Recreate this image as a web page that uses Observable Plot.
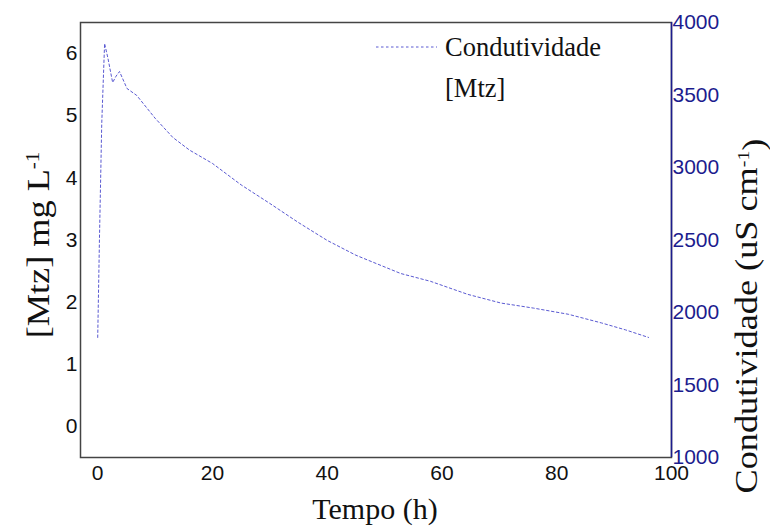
<!DOCTYPE html>
<html>
<head>
<meta charset="utf-8">
<script src="https://cdn.jsdelivr.net/npm/d3@7"></script>
<script src="https://cdn.jsdelivr.net/npm/@observablehq/plot@0.6"></script>
<style>
  html, body { margin: 0; padding: 0; background: white; }
  #chart { width: 770px; height: 526px; }
</style>
</head>
<body>
<div id="chart"></div>
<script>
// Data
const time = [0, 0.3, 0.7, 1.2, 1.8, 2.6, 3.2, 3.8, 5.1, 6.8, 10, 13.1, 16, 20, 25, 30, 35, 40, 45, 52.8, 58, 64.5, 70.3, 76, 82, 87.8, 92, 96];
const conductivity = [1828, 2500, 3300, 3855, 3750, 3586, 3630, 3662, 3545, 3497, 3340, 3207, 3120, 3028, 2880, 2752, 2620, 2497, 2395, 2269, 2215, 2125, 2065, 2030, 1988, 1928, 1880, 1828];
const xTicks = [0, 20, 40, 60, 80, 100];
const mtzTicks = [0, 1, 2, 3, 4, 5, 6];
const condTicks = [1000, 1500, 2000, 2500, 3000, 3500, 4000];

const mtzDomain = [-0.5, 6.5];
const condDomain = [1000, 4000];
const toLeft = d3.scaleLinear().domain(condDomain).range(mtzDomain);

const data = time.map((t, i) => ({t, c: conductivity[i]}));

const navy = "#1c1c8e";
const lineColor = "#5a5ad2";

const svg = Plot.plot({
  width: 770,
  height: 526,
  marginLeft: 80,
  marginRight: 99,
  marginTop: 22,
  marginBottom: 69,
  x: {domain: [-3, 100], label: null},
  y: {domain: mtzDomain, label: null},
  style: {fontFamily: "Liberation Sans, Arial, sans-serif", fontSize: "21px", background: "white", overflow: "visible"},
  marks: [
    Plot.frame({stroke: "#444", strokeWidth: 1.5}),
    Plot.axisX(xTicks, {tickSize: 0, tickPadding: 8, label: null, fontSize: 21, color: "#111", tickFormat: d => String(d)}),
    Plot.axisY(mtzTicks, {anchor: "left", tickSize: 0, tickPadding: 3, label: null, fontSize: 21, color: "#111", tickFormat: d => String(d)}),
    Plot.axisY(condTicks.map(c => toLeft(c)), {anchor: "right", tickSize: 0, tickPadding: 1, label: null, fontSize: 21, color: navy,
      tickFormat: v => String(Math.round(toLeft.invert(v)))}),
    Plot.ruleX([100], {stroke: navy, strokeWidth: 1.5}),
    Plot.line(data, {x: "t", y: d => toLeft(d.c), stroke: lineColor, strokeWidth: 1, strokeDasharray: "2.5,2.5"})
  ]
});

document.getElementById("chart").appendChild(svg);

// Titles and legend
const s = d3.select(svg);
const serif = "Liberation Serif, Times New Roman, serif";

s.append("text")
  .attr("x", 375).attr("y", 519)
  .attr("text-anchor", "middle")
  .style("font-family", serif).style("font-size", "30px").attr("fill", "#111")
  .text("Tempo (h)");

const lt = s.append("text")
  .attr("transform", "translate(49,245) rotate(-90) scale(1.17,1)")
  .attr("text-anchor", "middle")
  .style("font-family", serif).style("font-size", "31px").attr("fill", "#111");
lt.append("tspan").text("[Mtz] mg L");
lt.append("tspan").attr("dy", "-0.55em").style("font-size", "18px").text("-1");

const rt = s.append("text")
  .attr("transform", "translate(757,316) rotate(-90) scale(1.17,1)")
  .attr("text-anchor", "middle")
  .style("font-family", serif).style("font-size", "31px").attr("fill", "#111");
rt.append("tspan").text("Condutividade (uS cm");
rt.append("tspan").attr("dy", "-0.5em").style("font-size", "17px").text("-1");
rt.append("tspan").attr("dy", "0.5em").text(")");

// legend
s.append("line")
  .attr("x1", 376).attr("x2", 437).attr("y1", 47).attr("y2", 47)
  .attr("stroke", lineColor).attr("stroke-width", 1).attr("stroke-dasharray", "2.5,2.5");
s.append("text")
  .attr("x", 445).attr("y", 56)
  .attr("text-anchor", "start")
  .style("font-family", serif).style("font-size", "26.5px").attr("fill", "#111")
  .text("Condutividade");
s.append("text")
  .attr("x", 445).attr("y", 97)
  .attr("text-anchor", "start")
  .style("font-family", serif).style("font-size", "26.5px").attr("fill", "#111")
  .text("[Mtz]");
</script>
</body>
</html>
